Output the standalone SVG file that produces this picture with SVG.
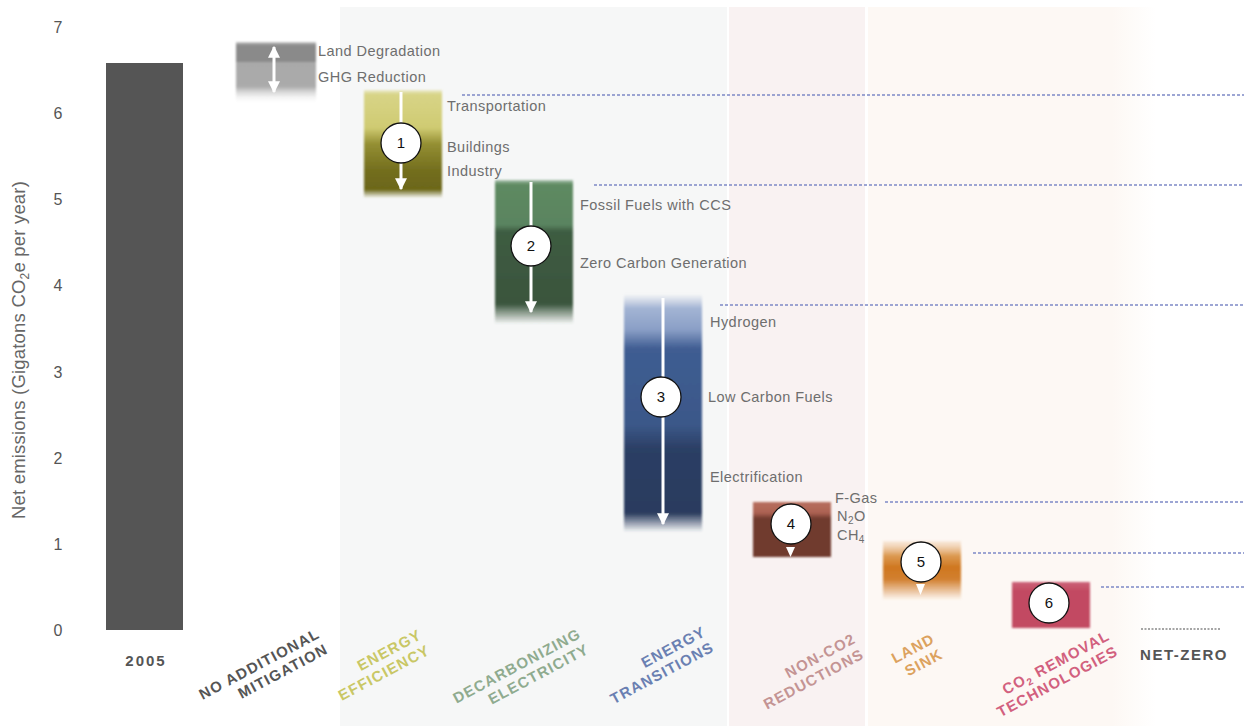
<svg xmlns="http://www.w3.org/2000/svg" width="1244" height="726" viewBox="0 0 1244 726">
  <defs>
    <style>
      text { font-family: "Liberation Sans", Arial, sans-serif; }
      .tick { font-size: 16px; fill: #555; text-anchor: middle; }
      .axis { font-size: 18.5px; fill: #666; text-anchor: middle; letter-spacing: 0.2px; }
      .side { font-size: 14.5px; fill: #6e6e6e; letter-spacing: 0.45px; }
      .cat { font-size: 15px; font-weight: bold; letter-spacing: 1.2px; text-anchor: end; }
      .num { font-size: 15px; fill: #111; text-anchor: middle; }
      .badge { fill: #fff; stroke: #111; stroke-width: 1.3; }
      .lvl { stroke: #7d89c6; stroke-width: 1.3; stroke-dasharray: 3 2; fill: none; }
      .shaft { stroke: #fff; stroke-width: 3; fill: none; }
      .soft { filter: url(#soft); }
    </style>
    <filter id="soft" x="-5%" y="-5%" width="110%" height="110%">
      <feGaussianBlur stdDeviation="1"/>
    </filter>
    <marker id="head" viewBox="0 0 10 10" refX="9" refY="5" markerWidth="4" markerHeight="4" orient="auto-start-reverse">
      <path d="M0,0 L10,5 L0,10 z" fill="#fff"/>
    </marker>
    <linearGradient id="gNoAdd" x1="0" y1="0" x2="0" y2="1">
      <stop offset="0" stop-color="#999" stop-opacity="0.5"/>
      <stop offset="0.05" stop-color="#8a8a8a"/>
      <stop offset="0.32" stop-color="#8a8a8a"/>
      <stop offset="0.33" stop-color="#a9a9a9"/>
      <stop offset="0.72" stop-color="#ababab"/>
      <stop offset="1" stop-color="#fff" stop-opacity="0"/>
    </linearGradient>
    <linearGradient id="gEff" x1="0" y1="0" x2="0" y2="1">
      <stop offset="0" stop-color="#dcd890" stop-opacity="0.4"/>
      <stop offset="0.04" stop-color="#d8d487"/>
      <stop offset="0.35" stop-color="#cfcb72"/>
      <stop offset="0.5" stop-color="#948f33"/>
      <stop offset="0.75" stop-color="#736e1e"/>
      <stop offset="0.92" stop-color="#6c6719"/>
      <stop offset="1" stop-color="#6c6719" stop-opacity="0"/>
    </linearGradient>
    <linearGradient id="gDec" x1="0" y1="0" x2="0" y2="1">
      <stop offset="0" stop-color="#62906a" stop-opacity="0.5"/>
      <stop offset="0.03" stop-color="#5e8a62"/>
      <stop offset="0.31" stop-color="#5a8460"/>
      <stop offset="0.36" stop-color="#3e5c42"/>
      <stop offset="0.86" stop-color="#3a553d"/>
      <stop offset="1" stop-color="#3a553d" stop-opacity="0"/>
    </linearGradient>
    <linearGradient id="gTr" x1="0" y1="0" x2="0" y2="1">
      <stop offset="0" stop-color="#a9b8d6" stop-opacity="0"/>
      <stop offset="0.06" stop-color="#a3b4d4"/>
      <stop offset="0.15" stop-color="#8a9fc6"/>
      <stop offset="0.23" stop-color="#3f5d92"/>
      <stop offset="0.55" stop-color="#3b5889"/>
      <stop offset="0.65" stop-color="#2c3f65"/>
      <stop offset="0.92" stop-color="#2a3b5e"/>
      <stop offset="1" stop-color="#2a3b5e" stop-opacity="0"/>
    </linearGradient>
    <linearGradient id="gNon" x1="0" y1="0" x2="0" y2="1">
      <stop offset="0" stop-color="#b8705f"/>
      <stop offset="0.2" stop-color="#ac6252"/>
      <stop offset="0.3" stop-color="#6f3a2e"/>
      <stop offset="1" stop-color="#6f3a2e"/>
    </linearGradient>
    <linearGradient id="gLand" x1="0" y1="0" x2="0" y2="1">
      <stop offset="0" stop-color="#e9b888" stop-opacity="0.2"/>
      <stop offset="0.25" stop-color="#dc9a52"/>
      <stop offset="0.45" stop-color="#cf7720"/>
      <stop offset="0.65" stop-color="#d28030"/>
      <stop offset="1" stop-color="#d28030" stop-opacity="0"/>
    </linearGradient>
    <linearGradient id="gRem" x1="0" y1="0" x2="0" y2="1">
      <stop offset="0" stop-color="#cc6378"/>
      <stop offset="0.2" stop-color="#c24a62"/>
      <stop offset="1" stop-color="#c34b62"/>
    </linearGradient>
    <linearGradient id="gPeachEdge" x1="0" y1="0" x2="1" y2="0">
      <stop offset="0" stop-color="#fdf8f4"/>
      <stop offset="1" stop-color="#fdf8f4" stop-opacity="0"/>
    </linearGradient>
  </defs>

  <rect width="1244" height="726" fill="#fff"/>

  <!-- shaded column bands -->
  <g id="bands">
    <rect x="340" y="7" width="387" height="719" fill="#f6f7f7"/>
    <rect x="729" y="7" width="136" height="719" fill="#f9f2f2"/>
    <rect x="868" y="7" width="244" height="719" fill="#fdf8f4"/>
    <rect x="1112" y="7" width="44" height="719" fill="url(#gPeachEdge)"/>
  </g>

  <!-- y axis -->
  <g id="axis">
    <text class="tick" x="58" y="33">7</text>
    <text class="tick" x="58" y="119">6</text>
    <text class="tick" x="58" y="205">5</text>
    <text class="tick" x="58" y="291">4</text>
    <text class="tick" x="58" y="378">3</text>
    <text class="tick" x="58" y="464">2</text>
    <text class="tick" x="58" y="550">1</text>
    <text class="tick" x="58" y="636">0</text>
    <text class="axis" transform="translate(25,350) rotate(-90)">Net emissions (Gigatons CO<tspan font-size="12" dy="4">2</tspan><tspan dy="-4">e per year)</tspan></text>
  </g>

  <!-- level guides -->
  <g id="connectors">
    <line class="lvl" x1="462" y1="95" x2="1244" y2="95"/>
    <line class="lvl" x1="594" y1="185" x2="1244" y2="185"/>
    <line class="lvl" x1="720" y1="305" x2="1244" y2="305"/>
    <line class="lvl" x1="885" y1="502" x2="1244" y2="502"/>
    <line class="lvl" x1="973" y1="553" x2="1244" y2="553"/>
    <line class="lvl" x1="1101" y1="587" x2="1244" y2="587"/>
    <line x1="1141" y1="629" x2="1221" y2="629" stroke="#888" stroke-width="1.6" stroke-dasharray="2 1.5"/>
  </g>

  <!-- 2005 baseline -->
  <g id="base2005">
    <rect x="106" y="63" width="77" height="567" fill="#555"/>
    <text class="cat" x="146" y="666" fill="#555" style="text-anchor:middle;font-size:15px;letter-spacing:2px">2005</text>
  </g>

  <!-- no additional mitigation -->
  <g id="noAdditional">
    <rect class="soft" x="236" y="42" width="80" height="62" fill="url(#gNoAdd)"/>
    <line class="shaft" x1="274" y1="47" x2="274" y2="92" marker-start="url(#head)" marker-end="url(#head)"/>
    <text class="side" x="318" y="56">Land Degradation</text>
    <text class="side" x="318" y="82">GHG Reduction</text>
    <text class="cat" fill="#555" transform="translate(321,637) rotate(-28)"><tspan x="0" y="0">NO ADDITIONAL</tspan><tspan x="0" y="17.5">MITIGATION</tspan></text>
  </g>

  <!-- 1 energy efficiency -->
  <g id="efficiency">
    <rect class="soft" x="364" y="90" width="78" height="108" fill="url(#gEff)"/>
    <line class="shaft" x1="401" y1="92" x2="401" y2="189" marker-end="url(#head)"/>
    <circle class="badge" cx="401" cy="143" r="20"/>
    <text class="num" x="401" y="148">1</text>
    <text class="side" x="447" y="111">Transportation</text>
    <text class="side" x="447" y="152">Buildings</text>
    <text class="side" x="447" y="176">Industry</text>
    <text class="cat" fill="#c9c765" transform="translate(423,638) rotate(-28)"><tspan x="0" y="0">ENERGY</tspan><tspan x="0" y="17.5">EFFICIENCY</tspan></text>
  </g>

  <!-- 2 decarbonizing electricity -->
  <g id="decarbonizing">
    <rect class="soft" x="495" y="180" width="78" height="144" fill="url(#gDec)"/>
    <line class="shaft" x1="531" y1="182" x2="531" y2="312" marker-end="url(#head)"/>
    <circle class="badge" cx="531" cy="246" r="20"/>
    <text class="num" x="531" y="251">2</text>
    <text class="side" x="580" y="210">Fossil Fuels with CCS</text>
    <text class="side" x="580" y="268">Zero Carbon Generation</text>
    <text class="cat" fill="#8fab8f" transform="translate(582,637) rotate(-28)"><tspan x="0" y="0">DECARBONIZING</tspan><tspan x="0" y="17.5">ELECTRICITY</tspan></text>
  </g>

  <!-- 3 energy transitions -->
  <g id="transitions">
    <rect class="soft" x="624" y="294" width="78" height="238" fill="url(#gTr)"/>
    <line class="shaft" x1="663" y1="298" x2="663" y2="524" marker-end="url(#head)"/>
    <circle class="badge" cx="661" cy="397" r="20"/>
    <text class="num" x="661" y="402">3</text>
    <text class="side" x="710" y="327">Hydrogen</text>
    <text class="side" x="708" y="402">Low Carbon Fuels</text>
    <text class="side" x="710" y="482">Electrification</text>
    <text class="cat" fill="#6a80b2" transform="translate(707,635) rotate(-28)"><tspan x="0" y="0">ENERGY</tspan><tspan x="0" y="17.5">TRANSITIONS</tspan></text>
  </g>

  <!-- 4 non-CO2 reductions -->
  <g id="nonCO2">
    <rect class="soft" x="753" y="502" width="78" height="55" fill="url(#gNon)"/>
    <path d="M786,547 L795,547 L790.5,557 z" fill="#fff"/>
    <circle class="badge" cx="791" cy="524" r="20"/>
    <text class="num" x="791" y="529">4</text>
    <text class="side" x="835" y="503">F-Gas</text>
    <text class="side" x="837" y="521">N<tspan font-size="10" dy="3">2</tspan><tspan dy="-3">O</tspan></text>
    <text class="side" x="837" y="540">CH<tspan font-size="10" dy="3">4</tspan></text>
    <text class="cat" fill="#c49494" transform="translate(857,642) rotate(-28)"><tspan x="0" y="0">NON-CO2</tspan><tspan x="0" y="17.5">REDUCTIONS</tspan></text>
  </g>

  <!-- 5 land sink -->
  <g id="landSink">
    <rect class="soft" x="883" y="541" width="78" height="59" fill="url(#gLand)"/>
    <path d="M916,584 L925,584 L920.5,595 z" fill="#fff"/>
    <circle class="badge" cx="921" cy="562" r="20"/>
    <text class="num" x="921" y="567">5</text>
    <text class="cat" fill="#dca25e" transform="translate(936,642) rotate(-28)"><tspan x="0" y="0">LAND</tspan><tspan x="0" y="17.5">SINK</tspan></text>
  </g>

  <!-- 6 CO2 removal technologies -->
  <g id="removal">
    <rect class="soft" x="1012" y="582" width="78" height="46" fill="url(#gRem)"/>
    <circle class="badge" cx="1049" cy="603" r="20"/>
    <text class="num" x="1049" y="608">6</text>
    <text class="cat" fill="#d2607e" transform="translate(1111,639) rotate(-28)"><tspan x="0" y="0">CO<tspan font-size="10" dy="3">2</tspan><tspan dy="-3"> REMOVAL</tspan></tspan><tspan x="0" y="17.5">TECHNOLOGIES</tspan></text>
  </g>

  <!-- net-zero -->
  <g id="netZero">
    <text class="cat" x="1184" y="660" fill="#555" style="text-anchor:middle;font-size:15px;letter-spacing:1.5px">NET-ZERO</text>
  </g>
</svg>
